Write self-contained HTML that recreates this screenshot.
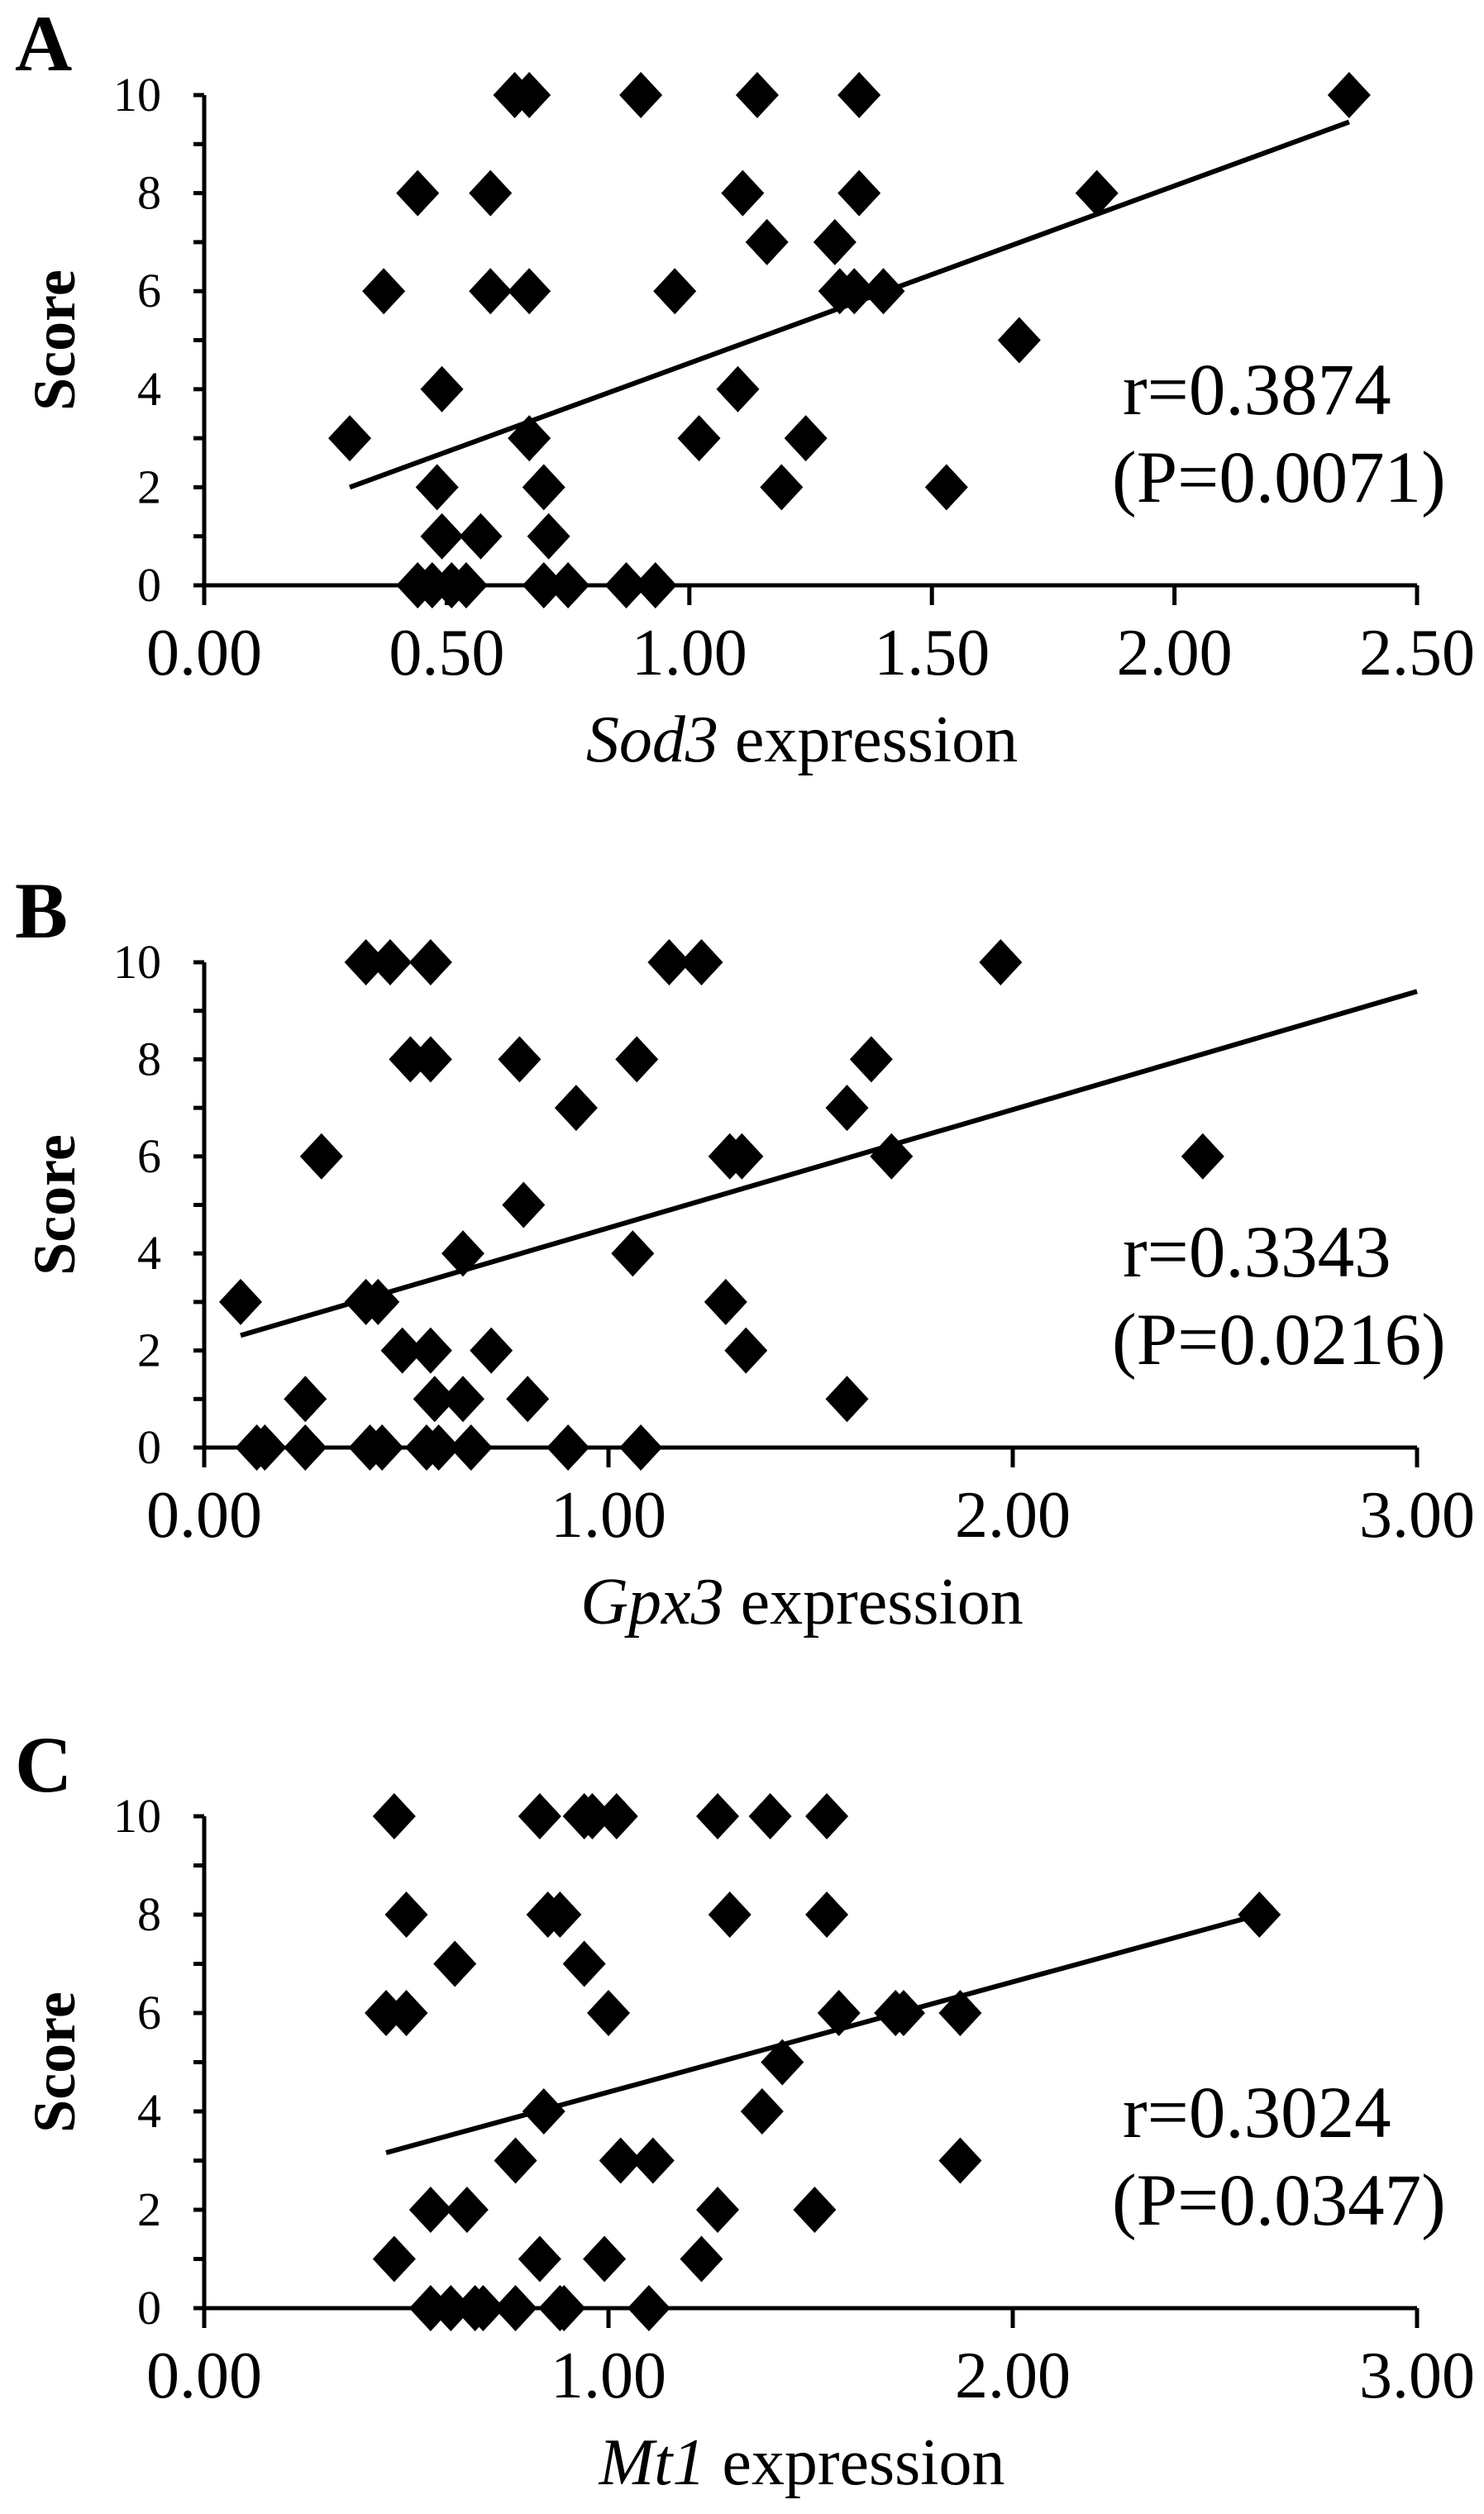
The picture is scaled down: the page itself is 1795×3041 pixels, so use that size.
<!DOCTYPE html>
<html><head><meta charset="utf-8"><style>
html,body{margin:0;padding:0;background:#fff;}
svg{display:block;}
text{font-family:"Liberation Serif",serif;fill:#000;}
</style></head><body>
<svg id="fig" width="1795" height="3041" viewBox="0 0 1795 3041" xmlns="http://www.w3.org/2000/svg"></svg>
<script>
// Panel A data (Sod3)
const aX=[0.30,0.37,0.44,0.44,0.47,0.51,0.54,0.48,0.49,0.49,0.57,0.59,0.59,0.64,0.67,0.67,0.67,0.70,0.70,0.71,0.75,0.87,0.93,0.90,0.97,1.02,1.10,1.11,1.14,1.16,1.19,1.24,1.30,1.31,1.34,1.35,1.35,1.40,1.53,1.68,1.84,2.36];
const aY=[3,6,8,0,0,0,0,2,4,1,1,8,6,10,10,6,3,2,0,1,0,0,0,10,6,3,4,8,10,7,2,3,7,6,6,10,8,6,2,5,8,10];
const aTrendX=[0.30,2.36];
const aTrendY=[2.0,9.45];
const aXTicks=["0.00","0.50","1.00","1.50","2.00","2.50"];
// Panel B data (Gpx3)
const bX=[0.09,0.13,0.15,0.25,0.25,0.29,0.40,0.46,0.56,0.40,0.43,0.41,0.44,0.49,0.51,0.56,0.56,0.55,0.58,0.57,0.64,0.64,0.66,0.71,0.78,0.79,0.80,0.90,0.92,1.06,1.07,1.08,1.15,1.23,1.29,1.30,1.33,1.34,1.59,1.59,1.65,1.70,1.97,2.47];
const bY=[3,0,0,0,1,6,10,10,10,3,3,0,0,2,8,8,2,0,0,1,1,4,0,2,8,5,1,0,7,4,8,0,10,10,3,6,6,2,1,7,8,6,10,6];
const bTrendX=[0.09,3.00];
const bTrendY=[2.31,9.40];
const bXTicks=["0.00","1.00","2.00","3.00"];
// Panel C data (Mt1)
const cX=[0.47,0.83,0.94,0.96,1.02,1.27,1.40,1.54,0.50,0.85,0.88,1.30,1.54,2.61,0.62,0.94,0.45,0.50,1.00,1.57,1.71,1.73,1.87,1.43,0.84,1.38,0.77,1.03,1.11,1.87,0.56,0.65,1.27,1.51,0.47,0.83,0.99,1.23,0.56,0.61,0.67,0.69,0.77,0.88,0.89,1.10];
const cY=[10,10,10,10,10,10,10,10,8,8,8,8,8,8,7,7,6,6,6,6,6,6,6,5,4,4,3,3,3,3,2,2,2,2,1,1,1,1,0,0,0,0,0,0,0,0];
const cTrendX=[0.45,2.61];
const cTrendY=[3.16,8.0];
const cXTicks=["0.00","1.00","2.00","3.00"];
const yTicks=["0","2","4","6","8","10"];

const NS="http://www.w3.org/2000/svg";
const svg=document.getElementById('fig');
function mk(tag,attrs,parent){const e=document.createElementNS(NS,tag);for(const k in attrs)e.setAttribute(k,attrs[k]);(parent||svg).appendChild(e);return e;}

function panel(letter,y0,y10,xmax,xs,ys,tx,ty,xticks,gene,rTxt,pTxt){
  const g=mk('g',{});
  
  
  const x0=247,x1=1714;
  const sx=v=>x0+(v/xmax)*(x1-x0);
  const sy=v=>y0+(v/10)*(y10-y0);
  const L=mk('text',{x:18,y:y10-30,'font-size':96,'font-weight':'bold'},g);L.textContent=letter;
  
  
  const ya=mk('line',{x1:x0,y1:sy(10),x2:x0,y2:y0,stroke:'#000','stroke-width':5},g);
  
  
  for(let i=0;i<=10;i++){mk('line',{x1:x0-13,y1:sy(i),x2:x0,y2:sy(i),stroke:'#000','stroke-width':5},g);}
  yTicks.forEach(t=>{const e=mk('text',{x:195,y:sy(+t)+19,'font-size':58,'text-anchor':'end'},g);e.textContent=t;
    
    });
  const xa=mk('line',{x1:x0,y1:y0,x2:x1,y2:y0,stroke:'#000','stroke-width':5},g);
  
  
  xticks.forEach(t=>{const xx=sx(+t);mk('line',{x1:xx,y1:y0,x2:xx,y2:y0+24,stroke:'#000','stroke-width':5},g);
    const e=mk('text',{x:xx,y:y0+108,'font-size':80,'text-anchor':'middle'},g);e.textContent=t;
    
    });
  const xt=mk('text',{x:970,y:y0+213,'font-size':80,'text-anchor':'middle'},g);
  
  
  const it=mk('tspan',{'font-style':'italic'},xt);it.textContent=gene;
  const rt=mk('tspan',{},xt);rt.textContent=' expression';
  const cy=(y0+sy(10))/2;
  const yt=mk('text',{x:0,y:0,'font-size':72,'font-weight':'bold','text-anchor':'middle',transform:`translate(90,${cy}) rotate(-90)`},g);
  yt.textContent='Score';
  
  
  xs.forEach((v,i)=>{const cx=sx(v),cyy=sy(ys[i]);
    const p=mk('polygon',{points:`${cx},${cyy-28} ${cx+26},${cyy} ${cx},${cyy+28} ${cx-26},${cyy}`,fill:'#000'},g);
    
    });
  const tl=mk('line',{x1:sx(tx[0]),y1:sy(ty[0]),x2:sx(tx[1]),y2:sy(ty[1]),stroke:'#000','stroke-width':6},g);
  
  
  const r1=mk('text',{x:1358,y:y0-207,'font-size':89},g);r1.textContent=rTxt;
  
  
  const r2=mk('text',{x:1345,y:y0-101,'font-size':89},g);r2.textContent=pTxt;
  
  
}
panel('A',708,115,2.5,aX,aY,aTrendX,aTrendY,aXTicks,'Sod3','r=0.3874','(P=0.0071)');
panel('B',1751,1164,3,bX,bY,bTrendX,bTrendY,bXTicks,'Gpx3','r=0.3343','(P=0.0216)');
panel('C',2792,2197,3,cX,cY,cTrendX,cTrendY,cXTicks,'Mt1','r=0.3024','(P=0.0347)');
</script>
</body></html>
